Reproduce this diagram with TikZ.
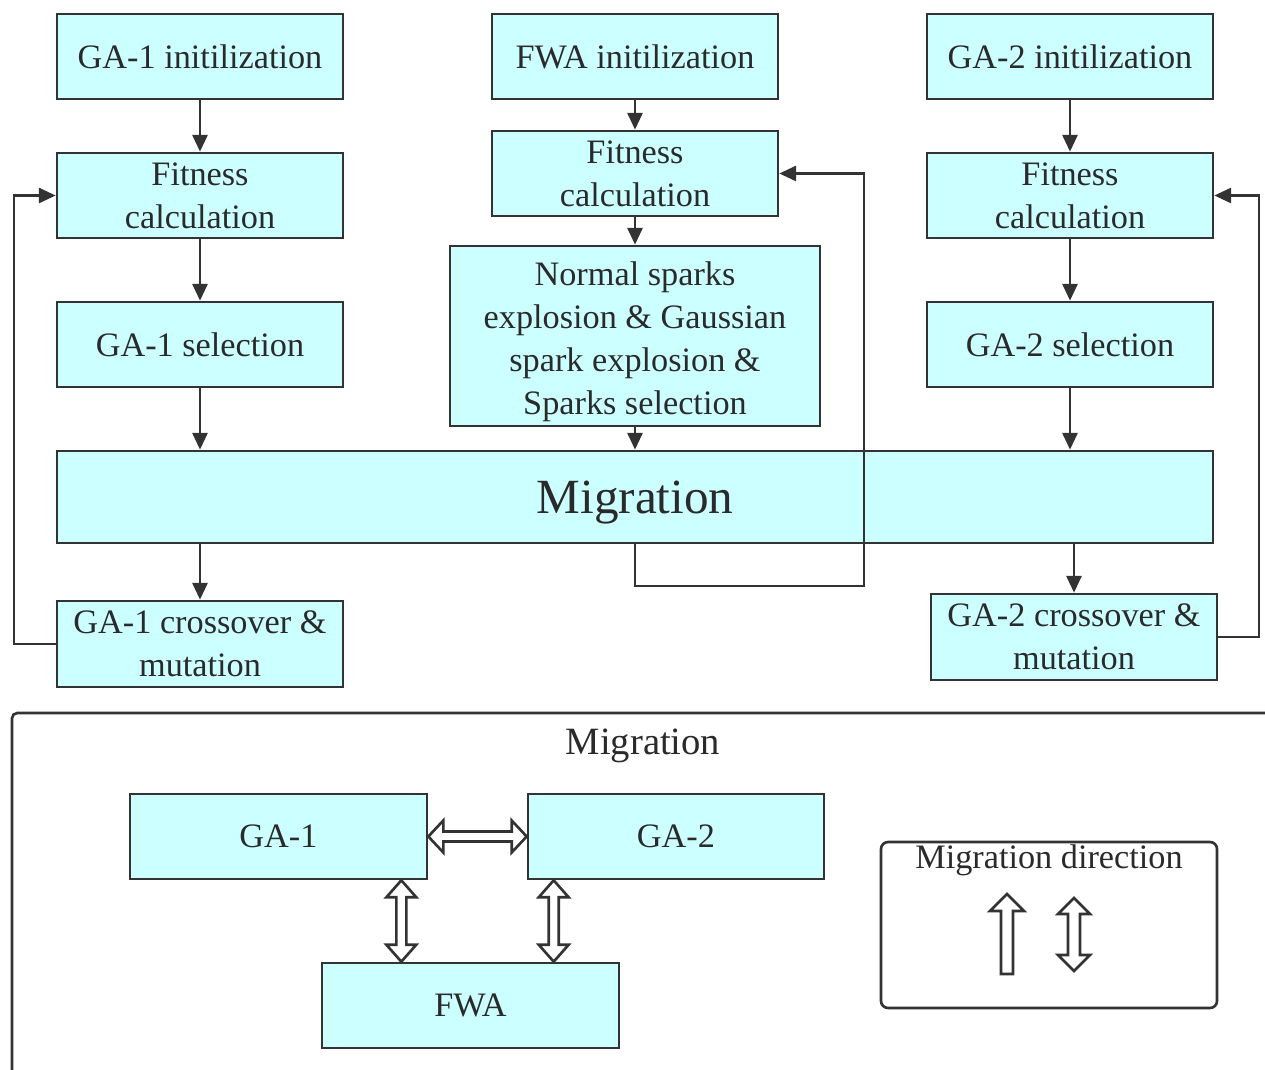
\documentclass[tikz,border=0pt]{standalone}
\usepackage{fontspec}
\setmainfont{Liberation Serif}
\usetikzlibrary{arrows.meta,calc}
\definecolor{boxfill}{HTML}{CCFFFF}
\definecolor{linegray}{HTML}{333333}
\definecolor{textgray}{HTML}{2A2A2A}
\newcommand\pxu{0.02cm}
\begin{document}
\begin{tikzpicture}[x=0.02cm,y=-0.02cm,
  box/.style={draw=linegray, fill=boxfill, line width=1.5pt, inner sep=0pt, align=center,
    text=textgray, font=\fontsize{19.5}{24.5}\selectfont},
  flow/.style={draw=linegray, line width=1.5pt, -{Triangle[length=9.5pt,width=8.5pt]}},
  loopline/.style={draw=linegray, line width=1.5pt},
  hollow/.style={draw=linegray, line width=1.5pt, fill=white, line join=miter},
  label/.style={text=textgray, inner sep=0pt}]
\useasboundingbox (0,0) rectangle (1265,1070);

% ---------- top flow chart ----------
\node[box, minimum width=286*\pxu, minimum height=85*\pxu] (ga1i) at (200,56.5) {GA-1 initilization};
\node[box, minimum width=286*\pxu, minimum height=85*\pxu] (fwai) at (635,56.5) {FWA initilization};
\node[box, minimum width=286*\pxu, minimum height=85*\pxu] (ga2i) at (1070,56.5) {GA-2 initilization};

\node[box, minimum width=286*\pxu, minimum height=85*\pxu] (ga1f) at (200,195.5) {\raisebox{0pt}[0pt][0pt]{}Fitness\\ calculation};
\node[box, minimum width=286*\pxu, minimum height=85*\pxu] (fwaf) at (635,173.5) {Fitness\\ calculation};
\node[box, minimum width=286*\pxu, minimum height=85*\pxu] (ga2f) at (1070,195.5) {Fitness\\ calculation};

\node[box, minimum width=286*\pxu, minimum height=85*\pxu] (ga1s) at (200,344.5) {GA-1 selection};
\node[box, minimum width=370*\pxu, minimum height=180*\pxu] (spk) at (635,336) {};
\node[label, align=center, font=\fontsize{19.5}{24.5}\selectfont] (spkt) at (635,342) {Normal sparks\\ explosion \& Gaussian\\ spark explosion \&\\ Sparks selection};
\node[box, minimum width=286*\pxu, minimum height=85*\pxu] (ga2s) at (1070,344.5) {GA-2 selection};

\node[box, minimum width=1156*\pxu, minimum height=92*\pxu] (mig) at (635,497) {};
\node[label, font=\fontsize{28}{32}\selectfont] (migtxt) at (635,503) {Migration};

\node[box, minimum width=286*\pxu, minimum height=86*\pxu] (ga1c) at (200,644) {GA-1 crossover \&\\ mutation};
\node[box, minimum width=286*\pxu, minimum height=86*\pxu] (ga2c) at (1074,637) {GA-2 crossover \&\\ mutation};

% vertical flow arrows
\draw[flow] (ga1i) -- (ga1f);
\draw[flow] (ga1f) -- (ga1s);
\draw[flow] (ga1s.south) -- (ga1s.south |- mig.north);
\draw[flow] (ga1c.north |- mig.south) -- (ga1c.north);

\draw[flow] (fwai) -- (fwaf);
\draw[flow] (fwaf.south) -- (fwaf.south |- spk.north);
\draw[flow] (spk.south) -- (spk.south |- mig.north);

\draw[flow] (ga2i) -- (ga2f);
\draw[flow] (ga2f) -- (ga2s);
\draw[flow] (ga2s.south) -- (ga2s.south |- mig.north);
\draw[flow] (ga2c.north |- mig.south) -- (ga2c.north);

% feedback loops
\coordinate (l1) at (14,420);
\coordinate (l2) at (1259,420);
\coordinate (l3) at (864,586);
\draw[flow] (ga1c.west) -| (l1) |- (ga1f.west);
\draw[flow] (ga2c.east) -| (l2) |- (ga2f.east);
\draw[flow] (mig.south) |- (l3) |- (fwaf.east);

% ---------- bottom panel ----------
\draw[loopline, rounded corners=3pt] (12,1072) -- (12,713) -- (1267,713);
\node[label, font=\fontsize{22}{26}\selectfont] (migt) at (643,746) {Migration};

\node[box, minimum width=297*\pxu, minimum height=85*\pxu] (bga1) at (278.5,836.5) {GA-1};
\node[box, minimum width=296*\pxu, minimum height=85*\pxu] (bga2) at (676,836.5) {GA-2};
\node[box, minimum width=297*\pxu, minimum height=85*\pxu] (bfwa) at (470.5,1005.5) {FWA};

% horizontal hollow double arrow GA-1 <-> GA-2
\draw[hollow] (bga1.east) -- ++(15,-16) -- ++(0,11) -- ($(bga2.west)+(-15,-5)$) -- ++(0,-11)
  -- (bga2.west) -- ++(-15,16) -- ++(0,-11) -- ($(bga1.east)+(15,5)$) -- ++(0,11) -- cycle;

% vertical hollow double arrows GA-1 <-> FWA, GA-2 <-> FWA
\coordinate (v1t) at ($(bga1.south east)+(-27,0)$);
\coordinate (v1b) at (v1t |- bfwa.north);
\coordinate (v2t) at ($(bga2.south west)+(27,0)$);
\coordinate (v2b) at (v2t |- bfwa.north);
\foreach \t/\b in {v1t/v1b, v2t/v2b}{
  \draw[hollow] (\t) -- ++(15,17) -- ++(-10,0) -- ($(\b)+(5,-17)$) -- ++(10,0) -- (\b)
    -- ++(-15,-17) -- ++(10,0) -- ($(\t)+(-5,17)$) -- ++(-10,0) -- cycle;
}

% legend
\node[draw=linegray, line width=1.5pt, rounded corners=4pt, minimum width=336*\pxu,
  minimum height=166*\pxu, inner sep=0pt] (leg) at (1049,925) {};
\node[label, font=\fontsize{19.5}{24}\selectfont, anchor=north] (legt) at ($(leg.north)+(0,4)$) {Migration direction};
\draw[hollow] (1007,894) -- (1024,911) -- (1013,911) -- (1013,974) -- (1001,974) -- (1001,911)
  -- (990,911) -- cycle;
\draw[hollow] (1074,898) -- (1090,914) -- (1080,914) -- (1080,955) -- (1090,955) -- (1074,971)
  -- (1058,955) -- (1068,955) -- (1068,914) -- (1058,914) -- cycle;
\end{tikzpicture}
\end{document}
